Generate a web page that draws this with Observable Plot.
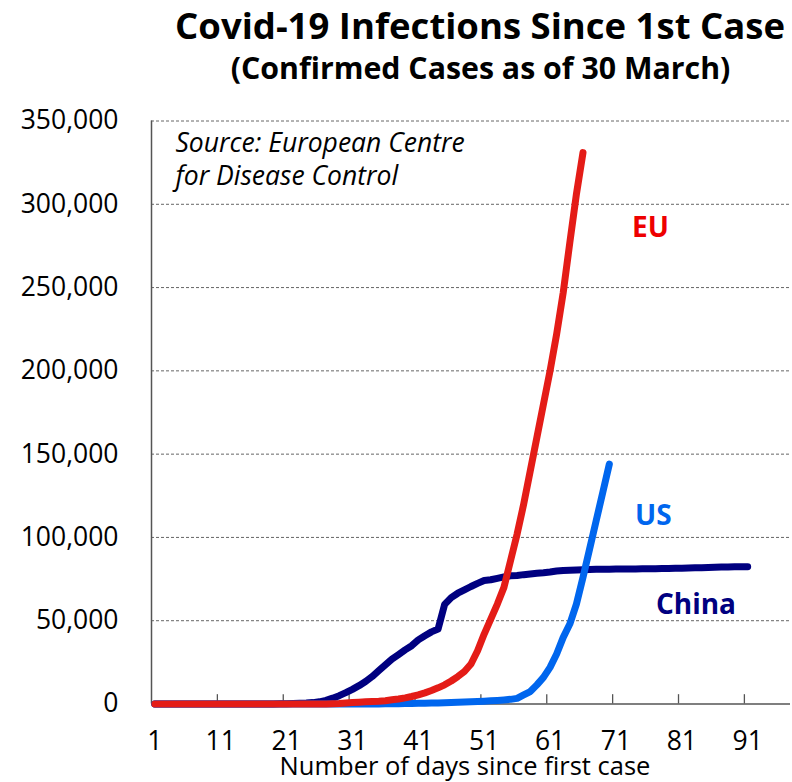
<!DOCTYPE html>
<html>
<head>
<meta charset="utf-8">
<script src="https://cdn.jsdelivr.net/npm/d3@7"></script>
<script src="https://cdn.jsdelivr.net/npm/@observablehq/plot@0.6"></script>
<style>
  body { margin: 0; background: #fff; }
  #wrap { position: relative; width: 792px; height: 782px; font-family: "Open Sans", sans-serif; color: #000; overflow: hidden; }
  .ttl { position: absolute; white-space: nowrap; font-weight: bold; line-height: 1; transform: translateX(-50%); }
  #title { left: 480px; top: 7px; font-size: 36.5px; }
  #subtitle { left: 480.5px; top: 53px; font-size: 30.3px; }
  #chart { position: absolute; left: 0; top: 95px; }
</style>
</head>
<body>
<div id="wrap">
  <div id="title" class="ttl">Covid-19 Infections Since 1st Case</div>
  <div id="subtitle" class="ttl">(Confirmed Cases as of 30 March)</div>
  <div id="chart"></div>
</div>
<script>
// ---- Data (day 1 = first case in each region) ----
const chinaCases = [
  27, 27, 27, 27, 44, 44, 59, 59, 59, 59,
  59, 59, 41, 41, 41, 41, 41, 45, 62, 121,
  198, 291, 440, 571, 830, 1300, 2200, 3500, 5000, 6800,
  8800, 11000, 13500, 16500, 20000, 23500, 27000, 29700, 32500, 35000,
  38500, 41000, 43300, 45000, 59804, 63851, 66492, 68500, 70548, 72436,
  74185, 74576, 75465, 76288, 76936, 77150, 77658, 78064, 78497, 78824,
  79251, 79824, 80200, 80330, 80460, 80600, 80750, 80860, 80910, 80960,
  80990, 81030, 81060, 81100, 81130, 81180, 81230, 81300, 81350, 81430,
  81520, 81620, 81730, 81850, 81990, 82100, 82200, 82280, 82350, 82410,
  82450
];
const euCases = [
  3, 3, 3, 4, 5, 7, 8, 10, 12, 14,
  15, 18, 21, 25, 27, 30, 33, 36, 37, 38,
  40, 41, 42, 43, 44, 46, 60, 150, 300, 600,
  900, 1100, 1300, 1500, 1700, 2000, 2500, 3000, 3700, 4500,
  5500, 6700, 8100, 9700, 11500, 13800, 16500, 19500, 24000, 32000,
  42000, 51000, 60000, 70000, 86000, 102000, 120000, 140000, 160000, 180000,
  200000, 222000, 247000, 277000, 306000, 331000
];
const usCases = [
  1, 1, 1, 2, 2, 5, 5, 5, 5, 6,
  6, 8, 8, 8, 11, 11, 11, 12, 12, 12,
  12, 12, 13, 13, 14, 15, 15, 15, 15, 15,
  15, 15, 15, 35, 50, 80, 120, 170, 230, 300,
  380, 460, 550, 650, 760, 880, 1000, 1150, 1300, 1500,
  1700, 1900, 2150, 2450, 2800, 3400, 5500, 7500, 11500, 16000,
  22000, 30000, 40000, 48000, 60000, 76000, 93000, 110000, 127000, 144000
];
const seriesNames = ["China", "US", "EU"];
const seriesColors = ["#000080", "#0066ee", "#e41c17"];
const labelColors = ["#000080", "#0066ee", "#ee0000"];
const xTickLabels = [1, 11, 21, 31, 41, 51, 61, 71, 81, 91];
const yTickValues = [0, 50000, 100000, 150000, 200000, 250000, 300000, 350000];
const sourceNote = "Source: European Centre\nfor Disease Control";
const xTitle = "Number of days since first case";

// ---- Build tables ----
const toRows = (arr, name) => arr.map((v, i) => ({day: i + 1, cases: v, series: name}));
const china = toRows(chinaCases, "China");
const us = toRows(usCases, "US");
const eu = toRows(euCases, "EU");
const tickBounds = xTickLabels.slice(1).map(d => d - 0.5);

const lineOpts = (color) => ({x: "day", y: "cases", stroke: color, strokeWidth: 7, strokeLinecap: "round", strokeLinejoin: "round"});
const labelOpts = (name, color, dx, dy) => ({x: "day", y: "cases", text: () => name, fill: color, fontWeight: "bold", fontSize: 28, dx, dy});

const chart = Plot.plot({
  width: 792,
  height: 687,
  marginTop: 25.5,
  marginBottom: 78.5,
  marginLeft: 151,
  marginRight: 2,
  style: {fontFamily: "Open Sans, sans-serif", fontSize: "26px", background: "white", color: "#000", overflow: "visible"},
  x: {domain: [0.5, 97.5]},
  y: {domain: [0, 350000]},
  marks: [
    Plot.ruleY(yTickValues.filter(d => d > 0), {stroke: "#666", strokeWidth: 1, strokeDasharray: "3,2"}),
    Plot.ruleX(tickBounds, {y1: 0, y2: 5600, stroke: "#555", strokeWidth: 1.3}),
    Plot.ruleY([0], {stroke: "#555", strokeWidth: 1.5}),
    Plot.ruleX([0.5], {stroke: "#555", strokeWidth: 1.5}),
    Plot.axisY({ticks: yTickValues, tickFormat: d3.format(","), tickSize: 0, tickPadding: 33, label: null, fontSize: 26.5, fill: "#000"}),
    Plot.axisX({ticks: xTickLabels, tickFormat: d => String(d), tickSize: 0, tickPadding: 27, label: null, fontSize: 26.5, fill: "#000"}),
    Plot.lineY(china, lineOpts(seriesColors[0])),
    Plot.lineY(us, lineOpts(seriesColors[1])),
    Plot.lineY(eu, lineOpts(seriesColors[2])),
    Plot.text([sourceNote], {frameAnchor: "top-left", textAnchor: "start", lineAnchor: "top", dx: 24, dy: 7, fontStyle: "italic", fontSize: 26.5, lineHeight: 1.25, fill: "#000"}),
    Plot.text([xTitle], {frameAnchor: "bottom", lineAnchor: "bottom", dx: -6, dy: 70.5, fontSize: 25.5, fill: "#000"}),
    Plot.text([eu[eu.length - 1]], labelOpts(seriesNames[2], labelColors[2], 67.5, 75.4)),
    Plot.text([us[us.length - 1]], labelOpts(seriesNames[1], labelColors[1], 44, 52.3)),
    Plot.text([china[china.length - 1]], labelOpts(seriesNames[0], labelColors[0], -51.7, 37.9))
  ]
});
document.getElementById("chart").appendChild(chart);
</script>
</body>
</html>
